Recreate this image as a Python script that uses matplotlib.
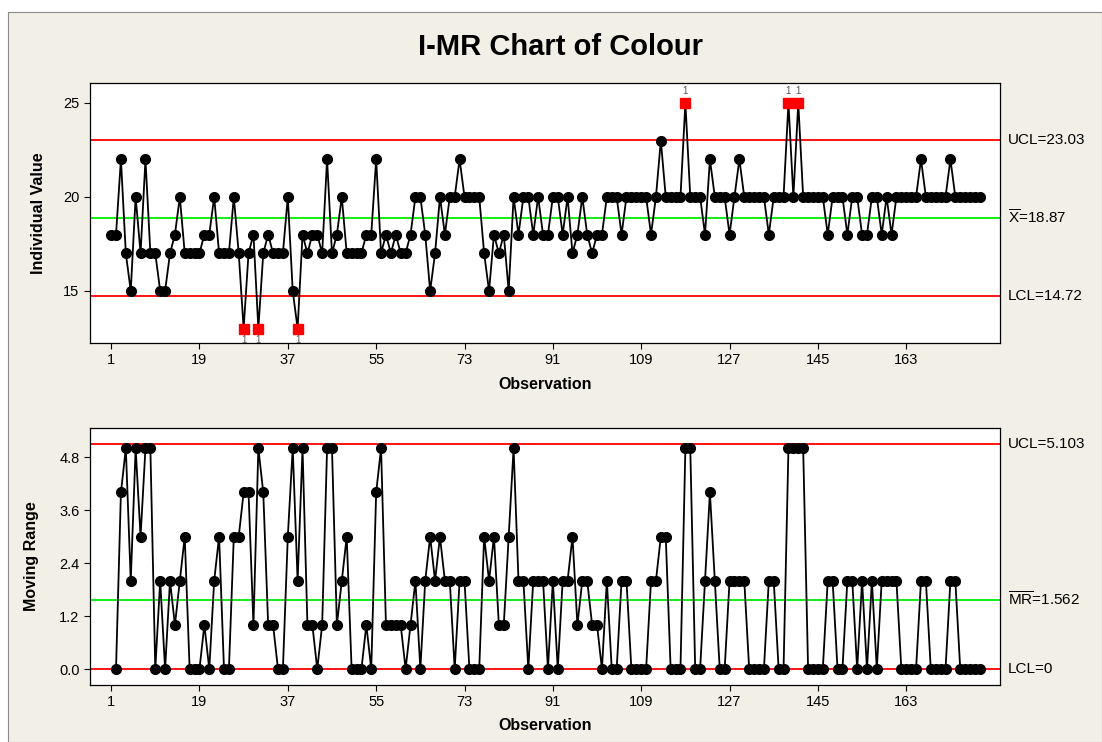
import numpy as np
import matplotlib.pyplot as plt
from matplotlib.patches import Rectangle
from matplotlib.transforms import blended_transform_factory

plt.rcParams['font.family'] = ['Liberation Sans', 'DejaVu Sans']
plt.rcParams['mathtext.fontset'] = 'custom'
plt.rcParams['mathtext.rm'] = 'Liberation Sans'

# individual colour readings, observation 1..178
colour = [18, 18, 22, 17, 15, 20, 17, 22, 17, 17,
          15, 15, 17, 18, 20, 17, 17, 17, 17, 18,
          18, 20, 17, 17, 17, 20, 17, 13, 17, 18,
          13, 17, 18, 17, 17, 17, 20, 15, 13, 18,
          17, 18, 18, 17, 22, 17, 18, 20, 17, 17,
          17, 17, 18, 18, 22, 17, 18, 17, 18, 17,
          17, 18, 20, 20, 18, 15, 17, 20, 18, 20,
          20, 22, 20, 20, 20, 20, 17, 15, 18, 17,
          18, 15, 20, 18, 20, 20, 18, 20, 18, 18,
          20, 20, 18, 20, 17, 18, 20, 18, 17, 18,
          18, 20, 20, 20, 18, 20, 20, 20, 20, 20,
          18, 20, 23, 20, 20, 20, 20, 25, 20, 20,
          20, 18, 22, 20, 20, 20, 18, 20, 22, 20,
          20, 20, 20, 20, 18, 20, 20, 20, 25, 20,
          25, 20, 20, 20, 20, 20, 18, 20, 20, 20,
          18, 20, 20, 18, 18, 20, 20, 18, 20, 18,
          20, 20, 20, 20, 20, 22, 20, 20, 20, 20,
          20, 22, 20, 20, 20, 20, 20, 20]

x_bar, x_ucl, x_lcl = 18.87, 23.03, 14.72
mr_bar, mr_ucl, mr_lcl = 1.562, 5.103, 0.0

obs_ticks = [1, 19, 37, 55, 73, 91, 109, 127, 145, 163]
ind_ticks = [15, 20, 25]
mr_ticks = [0.0, 1.2, 2.4, 3.6, 4.8]

colour = np.array(colour)
obs = np.arange(1, len(colour) + 1)
mr = np.abs(np.diff(colour))
mr_obs = obs[1:]

W, H = 1102, 742
fig = plt.figure(figsize=(W / 100, H / 100), dpi=100, facecolor='white')
fig.patches.append(Rectangle((8 / W, 0), 1 - 8 / W, 1 - 12 / H, transform=fig.transFigure,
                             facecolor='#F2EFE6', edgecolor='#8a8a8a', lw=0.8, zorder=-5))

fig.text(0.509, 1 - 47 / H, 'I-MR Chart of Colour', ha='center', va='center',
         fontsize=21, fontweight='bold')

ax1 = fig.add_axes([90 / W, 1 - 343 / H, 910 / W, 260 / H])
ax2 = fig.add_axes([90 / W, 1 - 685 / H, 910 / W, 257 / H])


def draw_panel(ax, x, y, centre, ucl, lcl):
    ax.axhline(ucl, color='#FF0000', lw=1.3, zorder=1)
    ax.axhline(lcl, color='#FF0000', lw=1.3, zorder=1)
    ax.axhline(centre, color='#00EE00', lw=1.3, zorder=1)
    ax.plot(x, y, color='black', lw=1.3, zorder=2)
    out = (y > ucl) | (y < lcl)
    ax.plot(x[~out], y[~out], 'o', color='black', ms=7, zorder=3)
    ax.plot(x[out], y[out], 's', color='#FF0000', ms=6.5, zorder=4)
    for xi, yi in zip(x[out], y[out]):
        up = yi > ucl
        ax.annotate('1', (xi, yi), xytext=(0, 5 if up else -5), textcoords='offset points',
                    ha='center', va='bottom' if up else 'top', fontsize=7, color='#555555')
    ax.set_facecolor('white')
    ax.set_xlim(-3.3, 182.1)
    ax.set_xticks(obs_ticks)
    ax.tick_params(direction='out', length=4, labelsize=10.5, top=False, right=False)
    for s in ax.spines.values():
        s.set_linewidth(0.9)
    ax.set_xlabel('Observation', fontsize=11.5, fontweight='bold')
    ax.xaxis.set_label_coords(0.5, -0.13)
    trans = blended_transform_factory(ax.transAxes, ax.transData)
    return trans


t1 = draw_panel(ax1, obs, colour, x_bar, x_ucl, x_lcl)
ax1.set_ylim(12.23, 26.06)
ax1.set_yticks(ind_ticks)
ax1.set_ylabel('Individual Value', fontsize=11.5, fontweight='bold')
ax1.yaxis.set_label_coords(-0.048, 0.5)
ax1.text(1.009, x_ucl, f'UCL={x_ucl:.2f}', transform=t1, va='center', fontsize=11)
ax1.text(1.009, x_bar, r'$\overline{\mathrm{X}}$' + f'={x_bar:.2f}', transform=t1,
         va='center', fontsize=11)
ax1.text(1.009, x_lcl, f'LCL={x_lcl:.2f}', transform=t1, va='center', fontsize=11)

t2 = draw_panel(ax2, mr_obs, mr, mr_bar, mr_ucl, mr_lcl)
ax2.set_ylim(-0.36, 5.46)
ax2.set_yticks(mr_ticks)
ax2.set_yticklabels([f'{v:.1f}' for v in mr_ticks])
ax2.set_ylabel('Moving Range', fontsize=11.5, fontweight='bold')
ax2.yaxis.set_label_coords(-0.056, 0.5)
ax2.text(1.009, mr_ucl, f'UCL={mr_ucl:.3f}', transform=t2, va='center', fontsize=11)
ax2.text(1.009, mr_bar, r'$\overline{\mathrm{MR}}$' + f'={mr_bar:.3f}', transform=t2,
         va='center', fontsize=11)
ax2.text(1.009, mr_lcl, 'LCL=0', transform=t2, va='center', fontsize=11)

fig.savefig('out.png', dpi=100, facecolor=fig.get_facecolor())
